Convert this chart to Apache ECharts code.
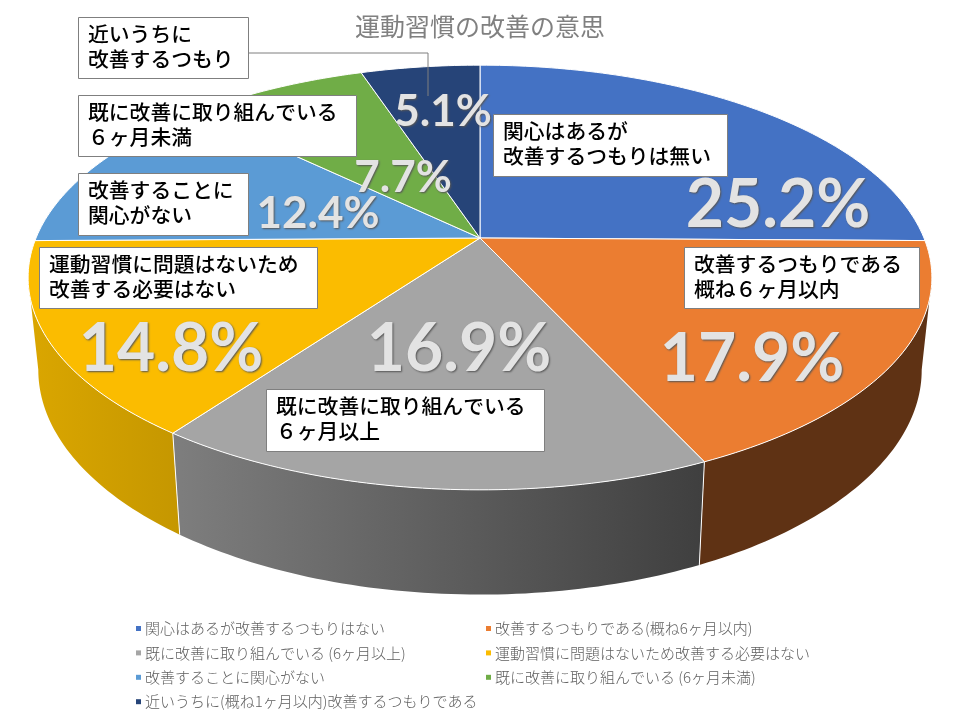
<!DOCTYPE html>
<html>
<head>
<meta charset="utf-8">
<script src="https://cdn.jsdelivr.net/npm/echarts@6/dist/echarts.min.js"></script>
<style>html,body{margin:0;padding:0;background:#fff}#c{width:960px;height:720px}</style>
</head>
<body>
<div id="c"></div>
<script>
var chartTitle = '運動習慣の改善の意思';
var categories = [
  '関心はあるが改善するつもりはない',
  '改善するつもりである(概ね6ヶ月以内)',
  '既に改善に取り組んでいる (6ヶ月以上)',
  '運動習慣に問題はないため改善する必要はない',
  '改善することに関心がない',
  '既に改善に取り組んでいる (6ヶ月未満)',
  '近いうちに(概ね1ヶ月以内)改善するつもりである'
];
var shares = [25.2, 17.9, 16.9, 14.8, 12.4, 7.7, 5.1];
var calloutLines = [
  ['関心はあるが', '改善するつもりは無い'],
  ['改善するつもりである', '概ね６ヶ月以内'],
  ['既に改善に取り組んでいる', '６ヶ月以上'],
  ['運動習慣に問題はないため', '改善する必要はない'],
  ['改善することに', '関心がない'],
  ['既に改善に取り組んでいる', '６ヶ月未満'],
  ['近いうちに', '改善するつもり']
];
var topColors = ['#4472C4', '#EB7D31', '#A5A5A5', '#FBBC00', '#5B9BD5', '#70AD47', '#264478'];

// ---- layout only (no data) ----
var FONT = '"Noto Sans CJK JP"';
var top3d = {cx: 480, cy: 238, a: 444, b: 205, k: 0.186};
var bottom3d = {cx: 480, cy: 328, a: 434, b: 217, k: 0.186};
var pctStyle = [
  {x: 778, y: 206, size: 66}, {x: 752, y: 360, size: 66}, {x: 459, y: 350, size: 66},
  {x: 171, y: 350, size: 66}, {x: 318, y: 214, size: 44}, {x: 403, y: 178, size: 44},
  {x: 443, y: 112, size: 44}
];
var boxes = [
  [493, 114, 234, 62], [684, 247, 235, 61], [266, 389, 278, 62], [39, 247, 278, 61],
  [78, 173, 170, 62], [78, 95, 278, 61], [78, 17, 170, 61]
];
var wallFill = [
  '#5F3214', '#5F3214',
  {type: 'linear', x: 173, y: 0, x2: 705, y2: 0, global: true,
   colorStops: [{offset: 0, color: '#7E7E7E'}, {offset: 1, color: '#3F3F3F'}]},
  {type: 'linear', x: 30, y: 0, x2: 180, y2: 0, global: true,
   colorStops: [{offset: 0, color: '#DAA600'}, {offset: 1, color: '#C59700'}]},
  '#5B9BD5', '#70AD47', '#264478'
];

function project(p, deg) {
  var t = deg * Math.PI / 180, w = 1 + p.k * Math.cos(t);
  return [p.cx + p.a * Math.sin(t) / w, p.cy - p.b * Math.cos(t) / w];
}
function arcPoints(p, d0, d1) {
  var pts = [], n = Math.max(2, Math.ceil(Math.abs(d1 - d0)));
  for (var i = 0; i <= n; i++) pts.push(project(p, d0 + (d1 - d0) * i / n));
  return pts;
}
var total = shares.reduce(function (s, v) { return s + v; }, 0);
var WALL_FROM = 100.7, WALL_TO = 259.3;

function makeRenderItem(idx) {
  return function (params, api) {
    var before = 0;
    for (var i = 0; i < idx; i++) before += shares[i];
    var d0 = before / total * 360;
    var d1 = d0 + api.value(0) / total * 360;
    var kids = [];
    // side wall
    var w0 = Math.max(d0, WALL_FROM), w1 = Math.min(d1, WALL_TO);
    if (w1 > w0) {
      var upper = arcPoints(top3d, w0, w1), lower = arcPoints(bottom3d, w0, w1).reverse();
      kids.push({type: 'polygon', z2: 1, shape: {points: upper.concat(lower)},
        style: {fill: wallFill[idx], stroke: null}});
      if (d1 < WALL_TO) {
        kids.push({type: 'line', z2: 2,
          shape: {x1: project(top3d, d1)[0], y1: project(top3d, d1)[1],
                  x2: project(bottom3d, d1)[0], y2: project(bottom3d, d1)[1]},
          style: {stroke: '#fff', lineWidth: 1}});
      }
    }
    // top face
    var face = [[top3d.cx, top3d.cy]].concat(arcPoints(top3d, d0, d1));
    kids.push({type: 'polygon', z2: 3, shape: {points: face},
      style: {fill: topColors[idx], stroke: '#fff', lineWidth: 1, lineJoin: 'round'}});
    // percent label
    var ps = pctStyle[idx];
    kids.push({type: 'text', z2: 10, x: ps.x, y: ps.y, style: {
      text: api.value(0).toFixed(1) + '%', fill: '#E3E3E3',
      font: 'bold ' + ps.size + 'px Lato', align: 'center', verticalAlign: 'middle',
      textShadowColor: '#555555', textShadowBlur: 2, textShadowOffsetX: 1, textShadowOffsetY: 1
    }});
    // callout
    var b = boxes[idx];
    if (idx === 6) {
      kids.push({type: 'polyline', z2: 19,
        shape: {points: [[b[0] + b[2], 53], [428, 53], [428, 96]]},
        style: {stroke: '#7F7F7F', lineWidth: 1, fill: null}});
    }
    kids.push({type: 'rect', z2: 20, shape: {x: b[0] + .5, y: b[1] + .5, width: b[2], height: b[3]},
      style: {fill: '#fff', stroke: '#7F7F7F', lineWidth: 1}});
    calloutLines[idx].forEach(function (line, li) {
      kids.push({type: 'text', z2: 21, x: b[0] + 10, y: b[1] + 17 + li * 25, style: {
        text: line, fill: '#000', font: '500 20.8px ' + FONT, verticalAlign: 'middle', align: 'left'
      }});
    });
    return {type: 'group', children: kids};
  };
}

var legendBase = {
  orient: 'vertical', icon: 'rect', itemWidth: 5, itemHeight: 5, itemGap: 9.4,
  selectedMode: false,
  textStyle: {fontFamily: FONT, fontSize: 15, fontWeight: 300, color: '#5F5F5F', padding: [0, 0, 0, -1]}
};
var chart = echarts.init(document.getElementById('c'), null, {renderer: 'canvas'});
chart.setOption({
  animation: false,
  backgroundColor: '#fff',
  title: {text: chartTitle, left: 'center', top: 9,
    textStyle: {fontFamily: FONT, fontSize: 25, fontWeight: 400, color: '#808080'}},
  legend: [
    Object.assign({}, legendBase, {left: 131, top: 616, data: categories.filter(function (c, i) { return i % 2 === 0; })}),
    Object.assign({}, legendBase, {left: 481, top: 616, data: categories.filter(function (c, i) { return i % 2 === 1; })})
  ],
  series: categories.map(function (name, i) {
    return {
      type: 'custom', name: name, coordinateSystem: 'none', silent: true,
      itemStyle: {color: topColors[i]},
      data: [[shares[i]]],
      renderItem: makeRenderItem(i)
    };
  })
});
</script>
</body>
</html>
